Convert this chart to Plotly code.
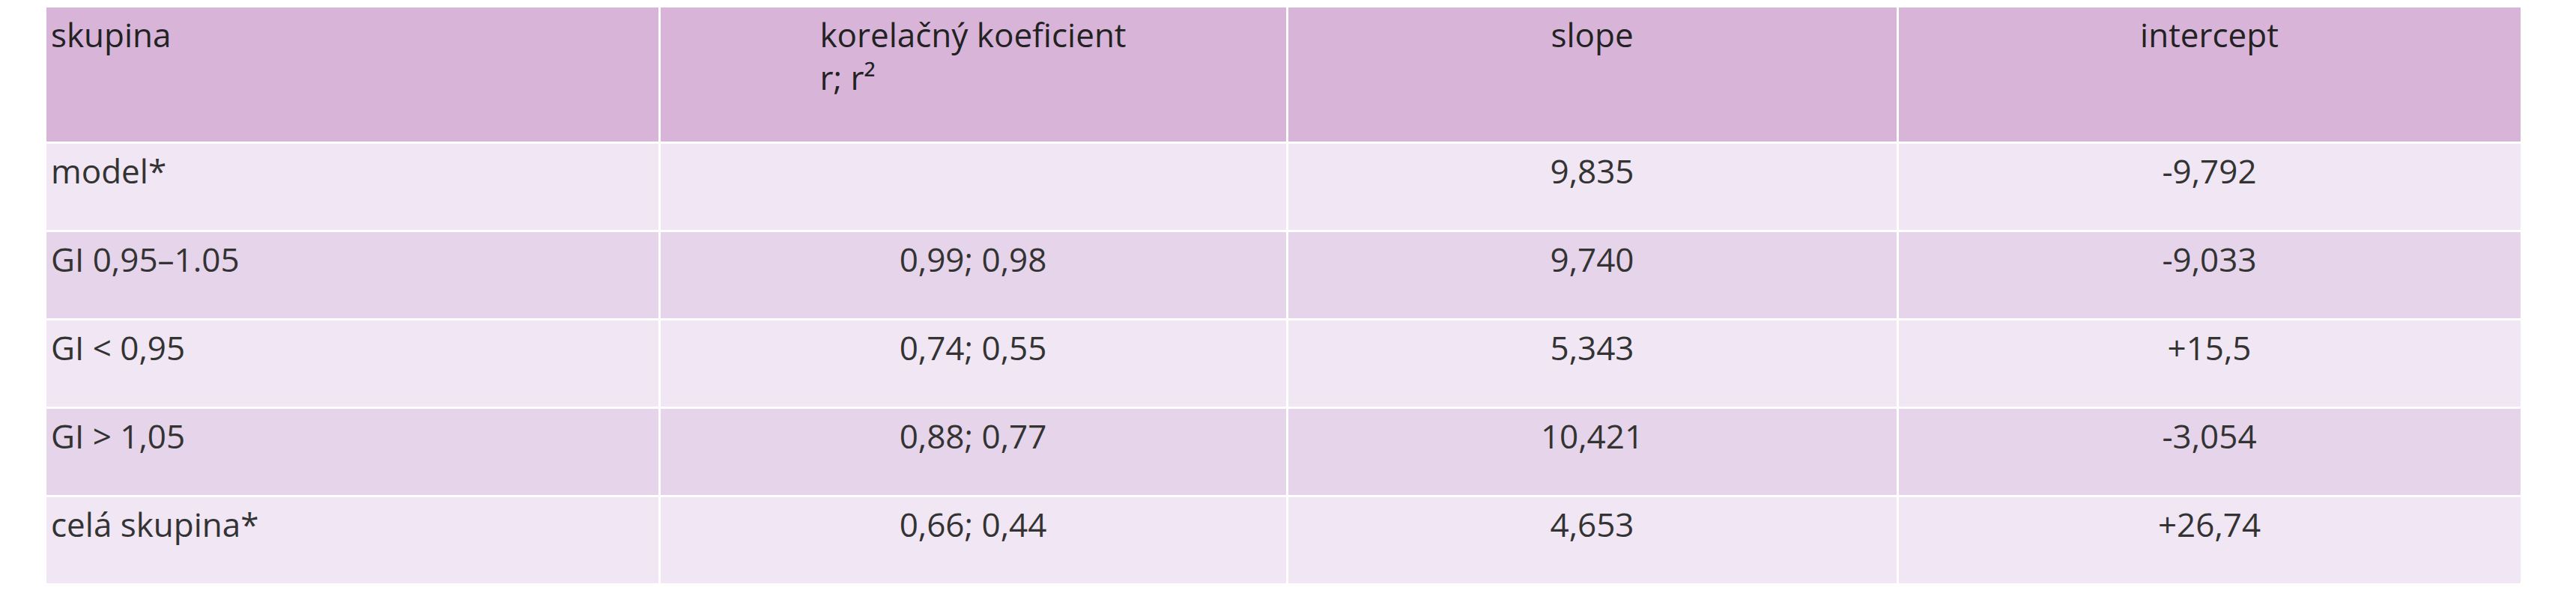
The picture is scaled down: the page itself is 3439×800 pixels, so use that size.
import plotly.graph_objects as go

headers = ["skupina", "korelačný koeficient<br>r; r²", "slope", "intercept"]
skupina = ["model*", "GI 0,95–1.05", "GI < 0,95", "GI > 1,05", "celá skupina*"]
korelacia = ["", "0,99; 0,98", "0,74; 0,55", "0,88; 0,77", "0,66; 0,44"]
slope = ["9,835", "9,740", "5,343", "10,421", "4,653"]
intercept = ["-9,792", "-9,033", "+15,5", "-3,054", "+26,74"]

W, H = 3439, 800
row_colors = ["#f1e6f4" if i % 2 == 0 else "#e6d4ea" for i in range(len(skupina))]


def pad(col):
    # plotly tables put text at the top of the cell, push it down a line
    return ["<br>" + v for v in col]


fig = go.Figure(go.Table(
    domain=dict(x=[52 / W, 3358 / W], y=[0, 1]),
    columnwidth=[820, 838, 815, 833],
    header=dict(
        values=pad(headers),
        fill_color="#d8b4d8",
        line=dict(color="white", width=3),
        align=["left", "center", "center", "center"],
        font=dict(family="Open Sans", size=44, color="#222222"),
        height=182,
    ),
    cells=dict(
        values=[pad(skupina), pad(korelacia), pad(slope), pad(intercept)],
        fill_color=[row_colors] * 4,
        line=dict(color="white", width=3),
        align=["left", "center", "center", "center"],
        font=dict(family="Open Sans", size=44, color="#333333"),
        height=118,
    ),
))
fig.update_layout(width=W, height=H, margin=dict(l=0, r=0, t=0, b=0),
                  paper_bgcolor="white")
fig.write_html("out.html")
